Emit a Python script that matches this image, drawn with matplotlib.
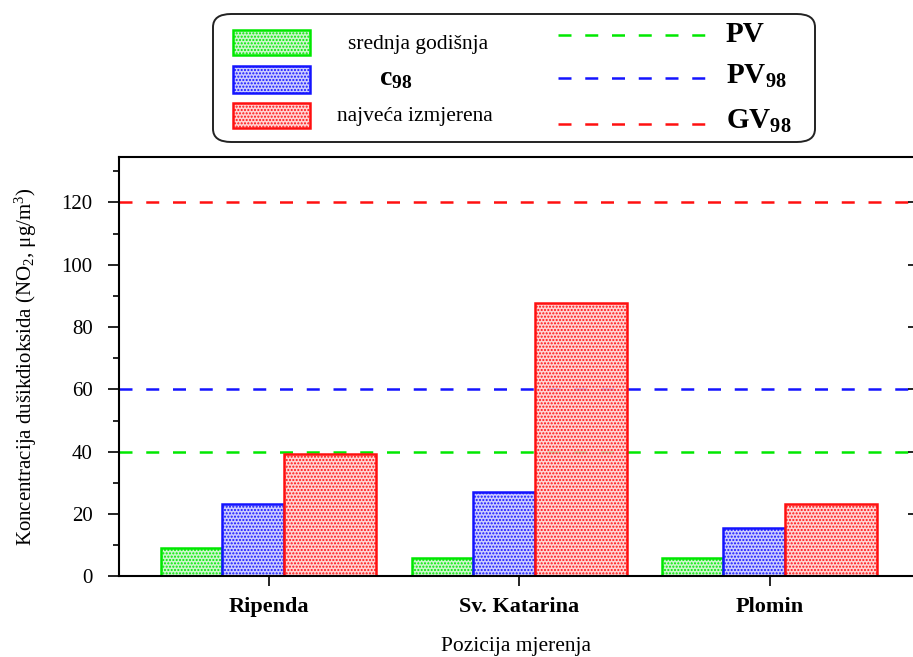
import matplotlib
matplotlib.use("Agg")
import matplotlib.pyplot as plt
from matplotlib.patches import FancyBboxPatch, Rectangle
from matplotlib.lines import Line2D
from matplotlib.colors import to_rgba
import numpy as np

# ---- data ----
stations = ["Ripenda", "Sv. Katarina", "Plomin"]
srednja_godisnja = [9.2, 5.8, 5.8]
c98 = [23.2, 27.1, 15.4]
najveca_izmjerena = [39.3, 87.6, 23.2]
limit_values = [40, 60, 120]
limit_labels = ["PV", r"PV$_{\mathbf{98}}$", r"GV$_{\mathbf{98}}$"]
series_labels = ["srednja godišnja", r"$\mathbf{c}_{\mathbf{98}}$", "najveća izmjerena"]
y_ticks = [0, 20, 40, 60, 80, 100, 120]

# ---- style ----
plt.rcParams['font.family'] = ['Liberation Serif', 'DejaVu Serif']
plt.rcParams['mathtext.fontset'] = 'custom'
plt.rcParams['mathtext.rm'] = 'Liberation Serif'
plt.rcParams['mathtext.it'] = 'Liberation Serif:italic'
plt.rcParams['mathtext.bf'] = 'Liberation Serif:bold'
plt.rcParams['hatch.linewidth'] = 1.0

GREEN = '#00e800'
BLUE = '#1414ff'
RED = '#ff1010'
colors = [GREEN, BLUE, RED]
faces = [to_rgba('#c4f5c4', 0.85), to_rgba('#c4c4ff', 0.85), to_rgba('#ffcccc', 0.85)]

W, H = 913, 657
fig = plt.figure(figsize=(W / 100, H / 100), dpi=100)

def fx(px):
    return px / W

def fy(py):
    return 1 - py / H

ax_left, ax_right, ax_top, ax_bottom = 119, 913.5, 157, 576.3
ax = fig.add_axes([fx(ax_left), fy(ax_bottom), fx(ax_right - ax_left), (ax_bottom - ax_top) / H])

x = np.arange(len(stations))
spacing = 250.5
widths = [61 / spacing, 62 / spacing, 92 / spacing]
start = -107.5 / spacing
series = [srednja_godisnja, c98, najveca_izmjerena]

DASH = (0, (5.2, 5.5))

# limit lines
for val, col in zip(limit_values, colors):
    ax.axhline(val, color=col, lw=1.8, linestyle=DASH, zorder=1)

off = start
for vals, w, col, fc in zip(series, widths, colors, faces):
    ax.bar(x + off, vals, width=w, align='edge', facecolor=fc, edgecolor=col,
           linewidth=1.8, hatch='.....', zorder=2)
    off += w

ax.set_xlim(-(268.5 - 119) / spacing, (913.5 - 268.5) / spacing)
ax.set_ylim(0, 134.6)

ax.set_yticks(y_ticks)
ax.set_yticks(np.arange(10, 131, 20), minor=True)
ax.set_xticks(x)
ax.set_xticklabels(stations, fontsize=16, fontweight='bold')
ax.tick_params(axis='y', which='major', direction='out', length=8, width=1.2,
               labelsize=15, pad=11, right=True)
ax.tick_params(axis='y', which='minor', direction='out', length=4, width=1.2, right=True)
ax.tick_params(axis='x', direction='out', length=7, width=1.2, pad=8)

# right ticks point inward
for t in ax.yaxis.get_major_ticks():
    t.tick2line.set_marker(matplotlib.markers.TICKLEFT)
    t.tick2line.set_markersize(4)
for t in ax.yaxis.get_minor_ticks():
    t.tick2line.set_visible(False)

for s in ['left', 'bottom', 'top']:
    ax.spines[s].set_linewidth(1.5)
ax.spines['right'].set_visible(False)

ax.set_ylabel("Koncentracija dušikdioksida (N$\\mathrm{O}_2$, μg/$\\mathrm{m}^3$)", fontsize=15, labelpad=16)
ax.set_xlabel("Pozicija mjerenja", fontsize=15.5, labelpad=14)

# ---- custom legend ----
box = FancyBboxPatch((fx(213), fy(142)), fx(815 - 213), (142 - 14) / H,
                     boxstyle="round,pad=0,rounding_size=0.02",
                     transform=fig.transFigure, facecolor='white',
                     edgecolor='#222222', linewidth=1.4, zorder=5)
fig.patches.append(box)

patch_y = [(30, 55), (66, 93), (103, 128)]
text_pos = [(418, 44), (396, 79), (415, 117)]
for (y0, y1), col, fc, lab, (tx, ty) in zip(patch_y, colors, faces, series_labels, text_pos):
    r = Rectangle((fx(233), fy(y1)), fx(310 - 233), (y1 - y0) / H, transform=fig.transFigure,
                  facecolor=fc, edgecolor=col, linewidth=1.8, hatch='.....', zorder=6)
    fig.patches.append(r)
    fs = 20 if lab.startswith('$') else 15.5
    fig.text(fx(tx), fy(ty), lab, ha='center', va='center', fontsize=fs, zorder=7)

line_y = [35, 78, 124]
lab_pos = [(726, 34), (726, 76), (726, 121)]
for ly, col, lab, (tx, ty) in zip(line_y, colors, limit_labels, lab_pos):
    fig.lines.append(Line2D([fx(558), fx(707)], [fy(ly), fy(ly)], transform=fig.transFigure,
                            color=col, lw=1.8, linestyle=DASH, zorder=7))
    fig.text(fx(tx), fy(ty), lab, ha='left', va='center', fontsize=21, fontweight='bold', zorder=7)

fig.savefig("out.png", dpi=100)
